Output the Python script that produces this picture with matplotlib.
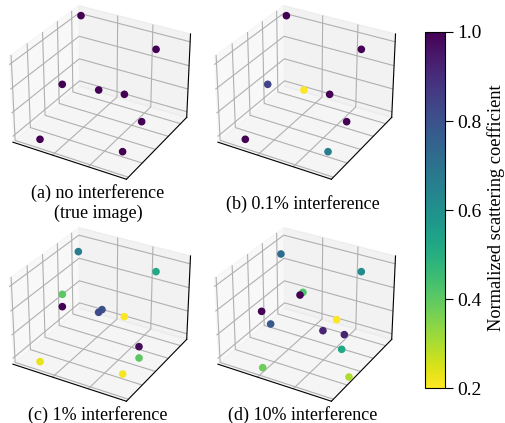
import matplotlib
matplotlib.use("Agg")
import matplotlib.pyplot as plt
import numpy as np

plt.rcParams['font.family'] = ['Liberation Serif', 'DejaVu Serif']

W, H = 505, 423

# (x, y, z) positions of the scatterers and their normalized coefficients
a_pts = [(0.07, 0.918, 0.95), (0.728, 0.961, 0.75), (0.207, 0.401, 0.5), (0.235, 0.914, 0.1),
         (0.452, 0.958, 0.1), (0.735, 0.73, 0.03), (0.178, 0.11, 0.03), (0.814, 0.277, 0.03)]
a_vals = [1.0, 1.0, 1.0, 1.0, 1.0, 1.0, 1.0, 1.0]

b_pts = [(0.073, 0.919, 0.95), (0.73, 0.962, 0.75), (0.21, 0.403, 0.5), (0.237, 0.915, 0.1),
         (0.454, 0.959, 0.1), (0.735, 0.73, 0.03), (0.18, 0.111, 0.03), (0.817, 0.278, 0.03)]
b_vals = [1.0, 1.0, 0.84, 0.2, 1.0, 1.0, 1.0, 0.66]

c_pts = [(0.102, 0.822, 0.85), (0.73, 0.956, 0.75), (0.179, 0.45, 0.6), (0.21, 0.397, 0.5),
         (0.211, 0.954, 0.06), (0.226, 0.984, 0.08), (0.454, 0.953, 0.1), (0.738, 0.68, 0.03),
         (0.817, 0.534, 0.03), (0.181, 0.106, 0.03), (0.817, 0.273, 0.03)]
c_vals = [0.66, 0.52, 0.40, 1.0, 0.82, 0.80, 0.2, 0.98, 0.40, 0.23, 0.21]

d_pts = [(0.107, 0.777, 0.85), (0.732, 0.957, 0.75), (0.334, 0.732, 0.5), (0.336, 0.683, 0.5),
         (0.14, 0.423, 0.4), (0.101, 0.614, 0.1), (0.529, 0.941, 0.1), (0.475, 0.81, 0.03),
         (0.654, 0.842, 0.03), (0.741, 0.636, 0.03), (1.002, 0.267, 0.08), (0.344, 0.102, 0.03)]
d_vals = [0.72, 0.62, 0.42, 1.0, 1.0, 0.78, 0.2, 0.92, 0.92, 0.52, 0.30, 0.38]

labels = ["(a) no interference\n(true image)", "(b) 0.1% interference",
          "(c) 1% interference", "(d) 10% interference"]
cbar_ticks = [0.2, 0.4, 0.6, 0.8, 1.0]
cbar_label = "Normalized scattering coefficient"

panels = [(a_pts, a_vals), (b_pts, b_vals), (c_pts, c_vals), (d_pts, d_vals)]
rects = [(-27.3, -10, 252, 202), (177.7, -10, 252, 202), (-27.3, 212, 252, 202), (177.7, 212, 252, 202)]
lab_xy = [(98, 203), (303, 204), (98, 415), (303, 415)]

fig = plt.figure(figsize=(W/100, H/100), dpi=100)
norm = plt.Normalize(0.2, 1.0)
for (pts, vals), (l, t, w, h) in zip(panels, rects):
    ax = fig.add_axes([l/W, 1-(t+h)/H, w/W, h/H], projection='3d')
    ax.patch.set_alpha(0)
    p = np.array(pts)
    ax.scatter(p[:, 0], p[:, 1], p[:, 2], c=vals, cmap='viridis_r', norm=norm, s=20, depthshade=False, alpha=1)
    ax.set_xlim(0, 1); ax.set_ylim(0, 1); ax.set_zlim(0, 1)
    ax.set_xticks([.36, .675]); ax.set_yticks([.03, .245, .46, .675, .89]); ax.set_zticks([.07, .35, .63, .91])
    ax.set_xticklabels([]); ax.set_yticklabels([]); ax.set_zticklabels([])
    for a in (ax.xaxis, ax.yaxis, ax.zaxis):
        a._axinfo['tick']['inward_factor'] = 0
        a._axinfo['tick']['outward_factor'] = 0

for (x, y), s in zip(lab_xy, labels):
    fig.text(x/W, 1-y/H, s, ha='center', va='center', fontsize=13, linespacing=1.2)

cax = fig.add_axes([425/W, 1-388/H, 20/W, 356/H])
sm = plt.cm.ScalarMappable(norm=norm, cmap='viridis_r')
cb = fig.colorbar(sm, cax=cax)
cb.set_ticks(cbar_ticks)
cb.ax.tick_params(labelsize=14, length=6, pad=3)
cb.set_label(cbar_label, fontsize=13.2, labelpad=4, y=0.507)
fig.savefig("out.png", dpi=100)
